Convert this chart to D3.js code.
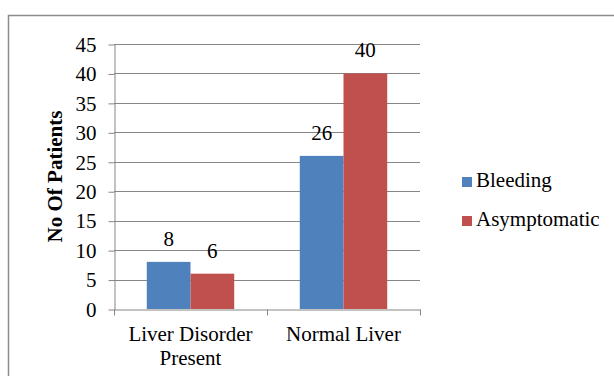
<!DOCTYPE html>
<html>
<head>
<meta charset="utf-8">
<script src="https://cdn.jsdelivr.net/npm/d3@7"></script>
<style>
body{margin:0;background:#fff;}
svg{display:block;font-family:"Liberation Serif","Times New Roman",serif;}
</style>
</head>
<body>
<svg id="chart" width="614" height="376"></svg>
<script>
const categories = [["Liver Disorder","Present"],["Normal Liver"]];
const seriesNames = ["Bleeding","Asymptomatic"];
const bleeding = [8, 26];
const asymptomatic = [6, 40];
const yTicks = [0,5,10,15,20,25,30,35,40,45];
const colors = ["#4F81BD","#C0504D"];

(function(){
const svg = d3.select("#chart");
const pL = 114, pR = 420, pT = 44, pB = 309;
const fs = 21;

// outer border
svg.append("rect").attr("x",8.5).attr("y",15.5).attr("width",700).attr("height",500)
  .attr("fill","none").attr("stroke","#8c8c8c").attr("stroke-width",1.5);

const catKeys = categories.map(c=>c.join(" "));
const x0 = d3.scaleBand().domain(catKeys).range([pL,pR]).paddingInner(0).paddingOuter(0);
const x1 = d3.scaleBand().domain(seriesNames).range([0,x0.bandwidth()]).paddingInner(0).paddingOuter(0.75);
const y = d3.scaleLinear().domain([0,45]).range([pB,pT]);

// gridlines
svg.append("g").selectAll("line").data(yTicks.filter(t=>t>0)).join("line")
  .attr("x1",pL).attr("x2",pR)
  .attr("y1",d=>Math.round(y(d))+0.5).attr("y2",d=>Math.round(y(d))+0.5)
  .attr("stroke","#868686").attr("stroke-width",1);

// y axis
const yAxis = d3.axisLeft(y).tickValues(yTicks).tickSize(6).tickPadding(12).tickSizeOuter(0);
const gy = svg.append("g").attr("transform",`translate(${pL+0.5},0.5)`).call(yAxis);
gy.select(".domain").attr("stroke","#868686");
gy.selectAll(".tick line").attr("stroke","#868686");
gy.selectAll(".tick text").attr("font-size",fs).attr("font-family","Liberation Serif").attr("fill","#000");

// bars
const data = catKeys.map((k,i)=>({key:k, vals:[bleeding[i], asymptomatic[i]]}));
const groups = svg.append("g").selectAll("g").data(data).join("g")
  .attr("transform",d=>`translate(${x0(d.key)},0)`);
groups.selectAll("rect").data(d=>d.vals.map((v,j)=>({s:seriesNames[j],v,j}))).join("rect")
  .attr("x",d=>x1(d.s)).attr("width",x1.bandwidth())
  .attr("y",d=>y(d.v)).attr("height",d=>y(0)-y(d.v))
  .attr("fill",d=>colors[d.j]);
groups.selectAll("text").data(d=>d.vals.map((v,j)=>({s:seriesNames[j],v,j}))).join("text")
  .attr("x",d=>x1(d.s)+x1.bandwidth()/2).attr("y",d=>y(d.v)-16)
  .attr("text-anchor","middle").attr("font-size",fs).attr("fill","#000")
  .text(d=>d.v);

// x axis
const xAxis = d3.axisBottom(x0).tickValues([]).tickSizeOuter(0);
const gx = svg.append("g").attr("transform",`translate(0,${pB+0.5})`).call(xAxis);
gx.select(".domain").attr("stroke","#868686");
const bounds = [pL, ...catKeys.map(k=>x0(k)+x0.bandwidth())];
gx.selectAll("line.b").data(bounds).join("line").attr("class","b")
  .attr("x1",d=>Math.round(d)+0.5).attr("x2",d=>Math.round(d)+0.5).attr("y1",0).attr("y2",6)
  .attr("stroke","#868686");
// category labels
const lab = svg.append("g").selectAll("text").data(categories).join("text")
  .attr("x",(d,i)=>x0(catKeys[i])+x0.bandwidth()/2).attr("y",341)
  .attr("text-anchor","middle").attr("font-size",fs).attr("fill","#000");
lab.selectAll("tspan").data(d=>d).join("tspan")
  .attr("x",function(){return d3.select(this.parentNode).attr("x");})
  .attr("dy",(d,i)=>i===0?0:24).text(d=>d);

// y title
svg.append("text").attr("transform",`translate(62,${(pT+pB)/2}) rotate(-90)`)
  .attr("text-anchor","middle").attr("font-size",fs).attr("font-weight","bold").attr("fill","#000")
  .text("No Of Patients");

// legend
const leg = svg.append("g").selectAll("g").data(seriesNames).join("g")
  .attr("transform",(d,i)=>`translate(462,${177+i*39})`);
leg.append("rect").attr("width",10).attr("height",10).attr("fill",(d,i)=>colors[i]);
leg.append("text").attr("x",14).attr("y",10).attr("font-size",fs).attr("fill","#000").text(d=>d);
})();
</script>
</body>
</html>
